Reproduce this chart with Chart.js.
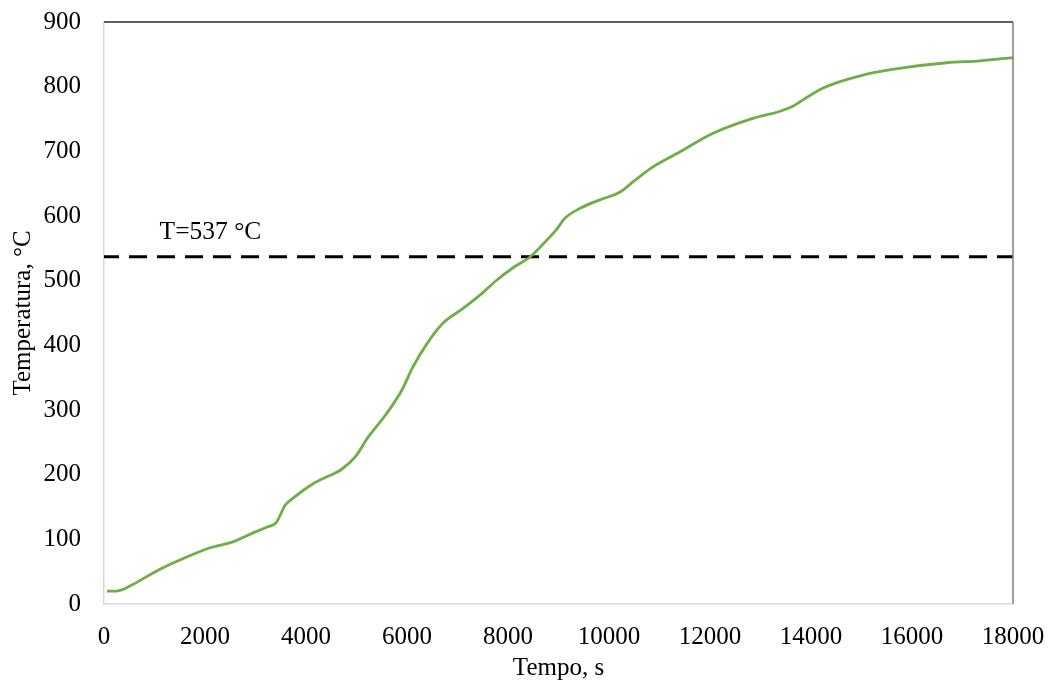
<!DOCTYPE html>
<html>
<head>
<meta charset="utf-8">
<script src="https://cdn.jsdelivr.net/npm/chart.js@4/dist/chart.umd.min.js"></script>
<style>
html,body{margin:0;padding:0;background:#fff;}
#wrap{width:1053px;height:686px;position:relative;}
</style>
</head>
<body>
<div id="wrap"><canvas id="c" width="1053" height="686"></canvas></div>
<script>
// Data
const times = [60,250,570,900,1250,1650,2100,2550,2950,3230,3410,3590,3750,4140,4480,4700,4970,5230,5600,5900,6120,6400,6710,7110,7450,7780,8100,8440,8700,8970,9120,9430,9820,10220,10480,10870,11400,12060,12850,13390,13650,13850,14240,15030,15820,16690,17350,18000];
const temps = [20,20,30,45,59,73,87,96,110,119,126,153,164,186,199,208,227,258,295,331,367,403,434,457,478,501,520,537,557,580,596,612,625,637,653,676,699,728,751,762,770,780,798,818,829,837,840,845];
const thresholdTemp = 537;
const thresholdTimes = [0, 18000];
const thresholdLabel = 'T=537 °C';
const xTicks = [0,2000,4000,6000,8000,10000,12000,14000,16000,18000];
const yTicks = [0,100,200,300,400,500,600,700,800,900];
const xTitle = 'Tempo, s';
const yTitle = 'Temperatura, °C';

const FONT = "'Liberation Serif', 'Times New Roman', serif";

const framePlugin = {
  id: 'frame',
  afterDatasetsDraw(chart) {
    const {ctx, chartArea: a} = chart;
    ctx.save();
    ctx.lineWidth = 1.5;
    ctx.strokeStyle = '#2b2b2b';
    ctx.beginPath(); ctx.moveTo(a.left, a.top); ctx.lineTo(a.right, a.top); ctx.stroke();
    ctx.strokeStyle = '#7f7f7f';
    ctx.beginPath(); ctx.moveTo(a.right, a.top); ctx.lineTo(a.right, a.bottom); ctx.stroke();
    ctx.restore();
  }
};

const labelPlugin = {
  id: 'tlabel',
  afterDatasetsDraw(chart) {
    const {ctx, scales} = chart;
    const x = scales.x.getPixelForValue(1100);
    const y = scales.y.getPixelForValue(thresholdTemp) - 18;
    ctx.save();
    ctx.font = '25.5px ' + FONT;
    ctx.fillStyle = '#000';
    ctx.textAlign = 'left';
    ctx.textBaseline = 'alphabetic';
    ctx.fillText(thresholdLabel, x, y);
    ctx.restore();
  }
};

function zeroPad(s) { s.paddingTop = 0; s.paddingBottom = 0; s.paddingLeft = 0; s.paddingRight = 0; }

new Chart(document.getElementById('c'), {
  type: 'scatter',
  data: {
    datasets: [
      {
        data: times.map((t, i) => ({x: t, y: temps[i]})),
        showLine: true,
        borderColor: '#70AD47',
        borderWidth: 2.8,
        pointRadius: 0,
        cubicInterpolationMode: 'monotone',
        order: 1
      },
      {
        data: thresholdTimes.map(t => ({x: t, y: thresholdTemp})),
        showLine: true,
        borderColor: '#000',
        borderWidth: 3,
        borderDash: [18, 10],
        borderDashOffset: 3,
        pointRadius: 0,
        order: 2
      }
    ]
  },
  options: {
    responsive: false,
    animation: false,
    layout: {padding: {top: 22, right: 40, left: 0, bottom: 0}},
    plugins: {legend: {display: false}, tooltip: {enabled: false}},
    scales: {
      x: {
        type: 'linear', min: 0, max: 18000,
        afterBuildTicks(s) { s.ticks = xTicks.map(v => ({value: v})); },
        afterFit(s) { s.height = 82; zeroPad(s); },
        grid: {display: false, drawTicks: false},
        border: {display: true, color: '#d9d9d9', width: 1.5},
        ticks: {color: '#000', font: {family: FONT, size: 25}, padding: 18, maxRotation: 0, autoSkip: false,
                callback: v => String(v)},
        title: {display: true, text: xTitle, color: '#000', font: {family: FONT, size: 25}, padding: {top: 0, bottom: 3}}
      },
      y: {
        type: 'linear', min: 0, max: 900,
        afterBuildTicks(s) { s.ticks = yTicks.map(v => ({value: v})); },
        afterFit(s) { s.width = 104; zeroPad(s); },
        grid: {display: false, drawTicks: false},
        border: {display: true, color: '#d9d9d9', width: 1.5},
        ticks: {color: '#000', font: {family: FONT, size: 25}, padding: 23, autoSkip: false,
                callback: v => String(v)},
        title: {display: true, text: yTitle, color: '#000', font: {family: FONT, size: 25}, padding: {top: 8, bottom: 0}}
      }
    }
  },
  plugins: [framePlugin, labelPlugin]
});
</script>
</body>
</html>
